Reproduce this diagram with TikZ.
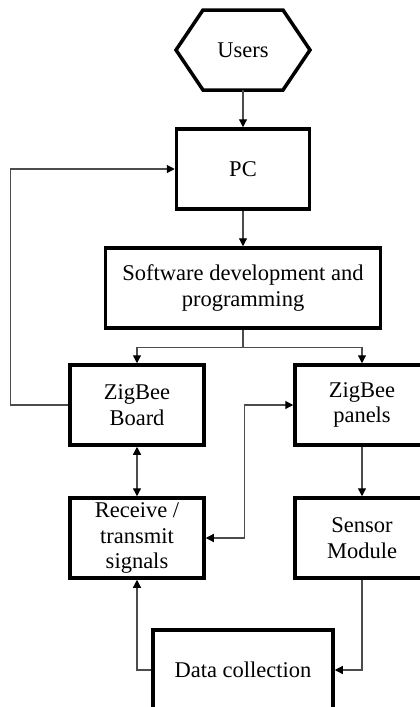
\documentclass[tikz,border=0pt]{standalone}
\usepackage{fontspec}
\setmainfont{Liberation Serif}
\usetikzlibrary{arrows.meta}
\begin{document}
\begin{tikzpicture}[x=1pt,y=-1pt,
  box/.style={draw=black,line width=3.5pt,minimum width=#1,minimum height=80pt,inner sep=0pt,align=center,font=\fontsize{22.5}{25.5}\selectfont},
  box/.default=134pt,
  conn/.style={draw=black!70,line width=1.2pt},
  arr/.style={conn,-{Triangle[length=8pt,width=8pt,color=black]}},
  arrb/.style={conn,{Triangle[length=8pt,width=8pt,color=black]}-{Triangle[length=8pt,width=8pt,color=black]}}]
\useasboundingbox (0,0) rectangle (420,707);
\clip (0,0) rectangle (420,707);
% Users hexagon
\draw[line width=3.5pt,line join=miter] (176,50) -- (203,10) -- (283,10) -- (310,50) -- (283,90) -- (203,90) -- cycle;
\node[minimum width=134pt,minimum height=80pt,inner sep=0pt,font=\fontsize{22.5}{26}\selectfont] (users) at (243,50) {Users};
\node[box=133pt] (pc) at (243,169) {PC};
\node[box=275pt] (sw) at (243,288) {Software development and\\programming};
\node[box] (zb) at (137,405) {ZigBee\\Board};
\node[box] (zp) at (362,405) {ZigBee\\panels};
\node[box] (rt) at (137,538) {Receive /\\transmit\\signals};
\node[box] (sm) at (362,538) {Sensor\\Module};
\node[box=180pt] (dc) at (243,670) {Data collection};
% connectors
\draw[arr] (users.south) -- (pc.north);
\draw[arr] (pc.south) -- (sw.north);
\draw[arr] (sw.south) -- ++(0,18) -| (zb.north);
\draw[arr] (sw.south) -- ++(0,18) -| (zp.north);
\draw[arr] (zb.west) -- ++(-58,0) |- (pc.west);
\draw[arrb] (zb.south) -- (rt.north);
\draw[arrb] (rt.east) -- ++(39,0) |- (zp.west);
\draw[arr] (zp.south) -- (sm.north);
\draw[arr] (sm.south) |- (dc.east);
\draw[arr] (dc.west) -| (rt.south);
\end{tikzpicture}
\end{document}
